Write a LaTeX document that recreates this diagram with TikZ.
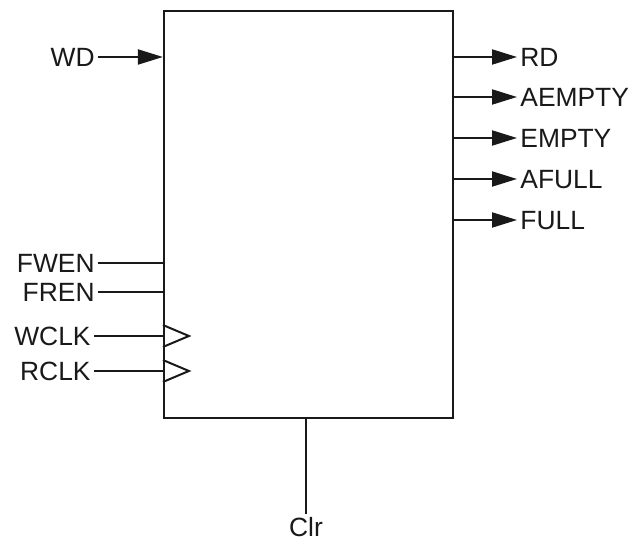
\documentclass[tikz,border=0pt]{standalone}
\usepackage{fontspec}
\setmainfont{Liberation Sans}
\usetikzlibrary{positioning,arrows.meta,calc}

\begin{document}
\begin{tikzpicture}[x=0.5pt, y=-0.5pt, >={Triangle[length=12.5pt, width=7.5pt]},
    wire/.style={line width=1pt, draw=black!90},
    pin/.style={font=\fontsize{13.2}{15}\selectfont, text=black!90, inner sep=1.5pt, text height=9.45pt, text depth=0pt}]
    \useasboundingbox (0,0) rectangle (632,544);

    % FIFO block
    \node[draw=black!90, line width=1.1pt, minimum width=144.5pt, minimum height=203.5pt, inner sep=0pt] (fifo) at (308.5,214.5) {};

    % Inputs
    \node[pin, anchor=east] (wd) at (98,57) {WD};
    \draw[wire, ->] (wd.east) -- (wd.east -| fifo.west);

    \node[pin, anchor=east] (fwen) at (98,263) {FWEN};
    \node[pin, anchor=east] (fren) at (98,292) {FREN};
    \draw[wire] (fwen.east) -- (fwen.east -| fifo.west);
    \draw[wire] (fren.east) -- (fren.east -| fifo.west);

    \node[pin, anchor=east] (wclk) at (94,336) {WCLK};
    \node[pin, anchor=east] (rclk) at (94,371) {RCLK};
    \draw[wire] (wclk.east) -- (wclk.east -| fifo.west);
    \draw[wire] (rclk.east) -- (rclk.east -| fifo.west);

    % Clock marks
    \foreach \clk in {wclk, rclk} {
        \coordinate (c) at (\clk.east -| fifo.west);
        \draw[wire, line join=miter] ($(c)+(0,-11)$) -- ($(c)+(26,0)$) -- ($(c)+(0,11)$);
    }

    % Outputs
    \node[pin, anchor=west] (rd) at (517,57) {RD};
    \node[pin, anchor=west] (aempty) at (517,97) {AEMPTY};
    \node[pin, anchor=west] (empty) at (517,138) {EMPTY};
    \node[pin, anchor=west] (afull) at (517,179) {AFULL};
    \node[pin, anchor=west] (full) at (517,220) {FULL};
    \foreach \out in {rd, aempty, empty, afull, full}
        \draw[wire, ->] (\out.west -| fifo.east) -- (\out.west);

    % Clear
    \node[pin, anchor=north] (clr) at (306,514) {Clr};
    \draw[wire] (clr.north |- fifo.south) -- (clr.north);
\end{tikzpicture}
\end{document}
